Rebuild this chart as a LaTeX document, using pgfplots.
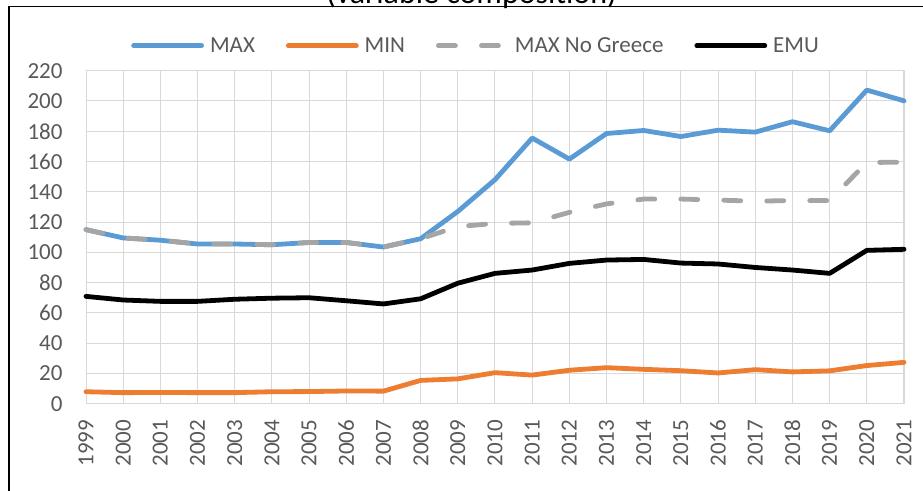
\documentclass[border=0pt]{standalone}
\usepackage{pgfplots}
\pgfplotsset{compat=1.18}
\usepackage{fontspec}
\setmainfont{Carlito}
\definecolor{cmax}{HTML}{5B9BD5}
\definecolor{cmin}{HTML}{ED7D31}
\definecolor{cgr}{HTML}{A5A5A5}
\definecolor{grid}{HTML}{D9D9D9}
\definecolor{txt}{HTML}{595959}
\begin{document}
\begin{tikzpicture}[x=1bp,y=1bp]
\useasboundingbox (0,0) rectangle (923,491);
\node[anchor=base,inner sep=0pt,font=\fontsize{32bp}{38bp}\selectfont] at (471.5,487.5) {(variable composition)};
\draw[line width=1.5bp] (9,-10) -- (9,484.3) -- (940,484.3);
\begin{axis}[
  at={(86bp,87.3bp)}, anchor=south west,
  scale only axis, width=818bp, height=333bp,
  xmin=1999, xmax=2021, ymin=0, ymax=220,
  xtick={1999,...,2021}, ytick={0,20,...,220},
  grid=major, major grid style={draw=grid, line width=1bp},
  axis line style={draw=grid, line width=1bp},
  major tick length=0pt,
  clip=false,
  /pgf/number format/assume math mode=true,
  tick label style={font=\fontsize{23bp}{27bp}\selectfont, text=txt, inner sep=0pt},
  xticklabel style={yshift=-16bp, rotate=90, anchor=east, /pgf/number format/1000 sep={}},
  yticklabel style={anchor=east, xshift=-23.3bp},
  legend columns=4,
  legend style={at={(axis description cs:0.4756,1.075)}, anchor=center, draw=none, fill=none,
    inner sep=0pt, font=\fontsize{23bp}{27bp}\selectfont, text=txt,
    nodes={inner sep=0pt, anchor=west},
    /tikz/every odd column/.append style={column sep=6bp},
    /tikz/every even column/.append style={column sep=31bp}},
  legend image code/.code={\draw[#1] (2.5bp,0) -- (70.5bp,0);},
  every axis plot/.append style={line width=4.8bp, line cap=round, line join=round},
]
\addplot[cmax] coordinates {(1999,115) (2000,109.5) (2001,108) (2002,105.5) (2003,105.5) (2004,105) (2005,106.5) (2006,106.5) (2007,103.5) (2008,109) (2009,127) (2010,148) (2011,175.5) (2012,161.6) (2013,178.5) (2014,180.5) (2015,176.5) (2016,180.7) (2017,179.4) (2018,186.3) (2019,180.3) (2020,207.2) (2021,200.1)};
\addlegendentry{MAX}
\addplot[cmin] coordinates {(1999,7.9) (2000,7.3) (2001,7.4) (2002,7.3) (2003,7.3) (2004,7.9) (2005,8.0) (2006,8.4) (2007,8.3) (2008,15.4) (2009,16.4) (2010,20.5) (2011,18.9) (2012,22.1) (2013,23.8) (2014,22.7) (2015,21.8) (2016,20.3) (2017,22.5) (2018,21.0) (2019,21.7) (2020,25.2) (2021,27.3)};
\addlegendentry{MIN}
\addplot[cgr, dash pattern=on 17bp off 26bp] coordinates {(1999,115) (2000,109.5) (2001,108) (2002,105.5) (2003,105.5) (2004,105) (2005,106.5) (2006,106.5) (2007,103.5) (2008,109) (2009,117) (2010,119.1) (2011,119.5) (2012,126.4) (2013,132) (2014,135.2) (2015,135.2) (2016,134.5) (2017,133.8) (2018,134.2) (2019,134.2) (2020,159.4) (2021,159.5)};
\addlegendentry{MAX No Greece}
\addplot[black] coordinates {(1999,70.9) (2000,68.5) (2001,67.6) (2002,67.6) (2003,69.0) (2004,69.7) (2005,70.0) (2006,68.0) (2007,65.9) (2008,69.3) (2009,79.6) (2010,86.1) (2011,88.3) (2012,92.7) (2013,94.9) (2014,95.3) (2015,92.9) (2016,92.3) (2017,90.0) (2018,88.3) (2019,86.1) (2020,101.3) (2021,102.0)};
\addlegendentry{EMU}
\end{axis}
\end{tikzpicture}
\end{document}
